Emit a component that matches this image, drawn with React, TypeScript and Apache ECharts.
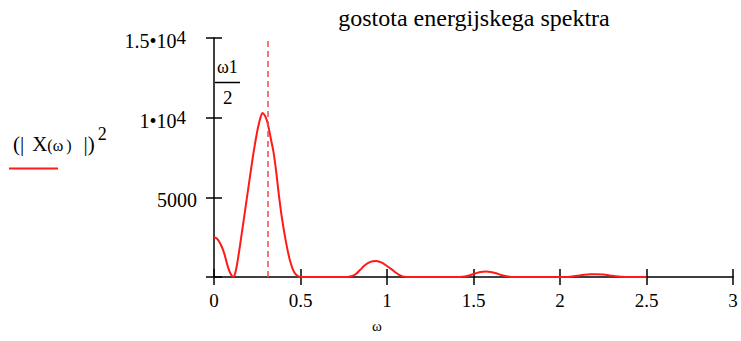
import React, { useEffect, useRef } from "react";
import * as echarts from "echarts";

const titleText = "gostota energijskega spektra";
const xTickValues = [0, 0.5, 1, 1.5, 2, 2.5, 3];
const yTickValues = [0, 5000, 10000, 15000];
const yTickLabels = ["", "5000", "1•10{sup|4}{sp|}", "1.5•10{sup|4}{sp|}"];
const markOmega = 0.307;

const omega = [
  0, 0.02, 0.045, 0.06, 0.083, 0.1, 0.112, 0.12, 0.13, 0.14, 0.15, 0.16, 0.17,
  0.18, 0.19, 0.2, 0.21, 0.22, 0.23, 0.24, 0.25, 0.26, 0.27, 0.28, 0.29, 0.3,
  0.31, 0.32, 0.33, 0.343, 0.355, 0.365, 0.376, 0.39, 0.4, 0.411, 0.425, 0.44,
  0.455, 0.47, 0.485, 0.5, 0.52, 0.6, 0.7, 0.76, 0.78, 0.8, 0.82, 0.845, 0.87,
  0.9, 0.938, 0.97, 1.0, 1.029, 1.05, 1.07, 1.09, 1.11, 1.13, 1.25, 1.42, 1.45,
  1.48, 1.51, 1.54, 1.57, 1.6, 1.63, 1.66, 1.69, 1.72, 1.74, 1.9, 2.03, 2.06, 2.1,
  2.14, 2.18, 2.21, 2.25, 2.29, 2.32, 2.35, 2.38, 2.5,
];
const power = [
  2490, 2380, 1900, 1450, 545, 120, 0, 150, 600, 1250, 1950, 2700, 3450,
  4200, 4950, 5700, 6450, 7200, 7900, 8550, 9150, 9650, 10050, 10300, 10200, 10000,
  9650, 9150, 8600, 7900, 7000, 6100, 5050, 3900, 3200, 2500, 1700, 1000,
  500, 200, 60, 10, 0, 0, 0, 0, 15, 60, 190, 450, 720,
  930, 1000, 900, 690, 460, 280, 130, 40, 5, 0, 0, 0, 30,
  110, 220, 310, 350, 320, 240, 130, 45, 5, 0, 0, 0, 20, 80,
  140, 175, 180, 155, 95, 45, 10, 0, 0,
];

const serif = "Liberation Serif";

export default function App() {
  const ref = useRef<HTMLDivElement>(null);
  useEffect(() => {
    if (!ref.current) return;
    const chart = echarts.init(ref.current, null, { renderer: "svg" });
    const data = omega.map((w, i) => [w, power[i]]);
    const axisLineStyle = { color: "#000", width: 1.5 };
    const base = { fontFamily: serif, fill: "#000", verticalAlign: "bottom" as const };
    chart.setOption({
      animation: false,
      textStyle: { fontFamily: serif, color: "#000" },
      grid: { left: 214, right: 8, top: 38, bottom: 64, containLabel: false },
      xAxis: [
        {
          type: "value",
          position: "bottom",
          min: 0,
          max: 3,
          interval: 0.5,
          axisLine: { show: true, lineStyle: axisLineStyle },
          axisTick: { show: true, inside: false, length: 8, lineStyle: axisLineStyle },
          axisLabel: {
            show: true,
            margin: 14,
            fontSize: 19,
            fontFamily: serif,
            color: "#000",
            formatter: (v: number) => (xTickValues.includes(v) ? String(v) : ""),
          },
          splitLine: { show: false },
        },
        {
          type: "value",
          position: "bottom",
          min: 0,
          max: 3,
          interval: 0.5,
          axisLine: { show: false },
          axisTick: { show: true, inside: true, length: 8, lineStyle: axisLineStyle },
          axisLabel: { show: false },
          splitLine: { show: false },
        },
      ],
      yAxis: [
        {
          type: "value",
          position: "left",
          min: 0,
          max: 15000,
          interval: 5000,
          axisLine: { show: true, lineStyle: axisLineStyle },
          axisTick: { show: true, inside: false, length: 8, lineStyle: axisLineStyle },
          axisLabel: {
            show: true,
            margin: 17,
            fontSize: 20,
            fontFamily: serif,
            color: "#000",
            padding: [6, 0, 0, 0],
            formatter: (v: number) => {
              const i = yTickValues.indexOf(v);
              return i >= 0 ? yTickLabels[i] : "";
            },
            rich: {
              sup: {
                fontSize: 19,
                fontFamily: serif,
                color: "#000",
                verticalAlign: "bottom",
                padding: [0, 0, 7, 0],
              },
              sp: { width: 11 },
            },
          },
          splitLine: { show: false },
        },
        {
          type: "value",
          position: "left",
          min: 0,
          max: 15000,
          interval: 5000,
          axisLine: { show: false },
          axisTick: { show: true, inside: true, length: 8, lineStyle: axisLineStyle },
          axisLabel: { show: false },
          splitLine: { show: false },
        },
      ],
      series: [
        {
          type: "line",
          data,
          xAxisIndex: 0,
          yAxisIndex: 0,
          showSymbol: false,
          smooth: 0.3,
          lineStyle: { color: "#ff1a1a", width: 2 },
          markLine: {
            silent: true,
            symbol: "none",
            label: { show: false },
            lineStyle: { color: "#f04848", width: 1.5, type: [6, 4] },
            data: [{ xAxis: markOmega }],
          },
        },
      ],
      graphic: [
        {
          type: "text",
          x: 474,
          y: 18,
          style: {
            text: titleText,
            font: `24px ${serif}`,
            fill: "#000",
            align: "center",
            verticalAlign: "middle",
          },
        },
        {
          type: "text",
          x: 13,
          y: 125,
          style: {
            text: "{a|(|}{s8|}{a|X}{b|(ω}{s3|}{b|)}{s12|}{a||)}{c|2}",
            rich: {
              a: { ...base, fontSize: 21 },
              b: { ...base, fontSize: 16, padding: [0, 0, 1, 0] },
              c: { ...base, fontSize: 18, padding: [0, 0, 11, 3] },
              s8: { width: 8 },
              s3: { width: 3 },
              s12: { width: 12 },
            },
          },
        },
        {
          type: "line",
          shape: { x1: 9, y1: 168.5, x2: 58, y2: 168.5 },
          style: { stroke: "#ff1a1a", lineWidth: 2 },
        },
        {
          type: "text",
          x: 217,
          y: 58,
          style: { text: "ω1", font: `18px ${serif}`, fill: "#000" },
        },
        {
          type: "line",
          shape: { x1: 215, y1: 82.5, x2: 240, y2: 82.5 },
          style: { stroke: "#000", lineWidth: 1.5 },
        },
        {
          type: "text",
          x: 223,
          y: 88,
          style: { text: "2", font: `19px ${serif}`, fill: "#000" },
        },
        {
          type: "text",
          x: 372,
          y: 318,
          style: { text: "ω", font: `15px ${serif}`, fill: "#000" },
        },
      ],
    });
    return () => chart.dispose();
  }, []);
  return (
    <div
      ref={ref}
      style={{ position: "absolute", left: 0, top: 0, width: 741, height: 341 }}
    />
  );
}
